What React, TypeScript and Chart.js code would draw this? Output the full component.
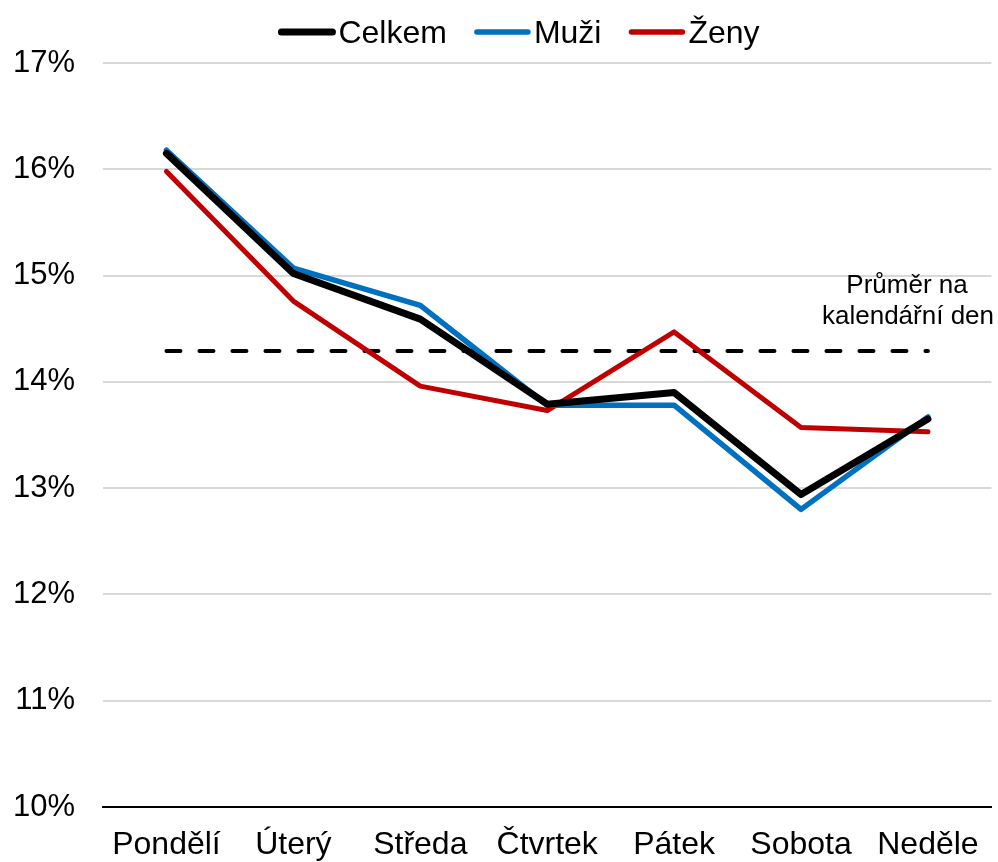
import React, { useEffect, useRef } from "react";
import { Chart, registerables } from "chart.js";

Chart.register(...registerables);

const categories = ["Pondělí", "Úterý", "Středa", "Čtvrtek", "Pátek", "Sobota", "Neděle"];
const celkem = [16.15, 15.02, 14.59, 13.79, 13.9, 12.94, 13.65];
const muzi = [16.18, 15.07, 14.72, 13.78, 13.78, 12.8, 13.67];
const zeny = [15.98, 14.76, 13.96, 13.73, 14.47, 13.57, 13.53];
const prumer = [14.29, 14.29, 14.29, 14.29, 14.29, 14.29, 14.29];
const yMin = 10;
const yMax = 17;
const annotationLines = ["Průměr na", "kalendářní den"];

const FONT = "'Liberation Sans', Arial, sans-serif";

const legendPlugin = {
  id: "customLegend",
  afterDraw(chart: any) {
    const ctx = chart.ctx;
    const items = chart.data.datasets.filter((d: any) => d.showInLegend);
    ctx.save();
    ctx.font = `32px ${FONT}`;
    const lineW = 57;
    const textGap = 3;
    const itemGap = 27;
    let total = 0;
    items.forEach((d: any, i: number) => {
      total += lineW + textGap + ctx.measureText(d.label).width + (i < items.length - 1 ? itemGap : 0);
    });
    let x = 519 - total / 2;
    const yLine = 32;
    items.forEach((d: any) => {
      ctx.beginPath();
      ctx.strokeStyle = d.borderColor;
      ctx.lineWidth = d.legendWidth;
      ctx.lineCap = "round";
      ctx.moveTo(x + 3, yLine);
      ctx.lineTo(x + lineW - 3, yLine);
      ctx.stroke();
      x += lineW + textGap;
      ctx.fillStyle = "#000";
      ctx.textBaseline = "alphabetic";
      ctx.textAlign = "left";
      ctx.fillText(d.label, x, 43);
      x += ctx.measureText(d.label).width + itemGap;
    });
    ctx.restore();
  },
};

const annotationPlugin = {
  id: "avgAnnotation",
  afterDraw(chart: any) {
    const ctx = chart.ctx;
    ctx.save();
    ctx.font = `26px ${FONT}`;
    ctx.fillStyle = "#000";
    ctx.textAlign = "center";
    ctx.textBaseline = "alphabetic";
    ctx.fillText(annotationLines[0], 907, 293);
    ctx.fillText(annotationLines[1], 908, 324);
    ctx.restore();
  },
};

export default function App() {
  const ref = useRef<HTMLCanvasElement>(null);
  useEffect(() => {
    document.body.style.margin = "0";
    const canvas = ref.current!;
    const chart = new Chart(canvas, {
      type: "line",
      data: {
        labels: categories,
        datasets: [
          {
            label: "Celkem",
            data: celkem,
            borderColor: "#000000",
            backgroundColor: "#000000",
            borderWidth: 7,
            pointRadius: 0,
            borderCapStyle: "round",
            borderJoinStyle: "round",
            tension: 0,
            showInLegend: true,
            legendWidth: 7,
          } as any,
          {
            label: "Muži",
            data: muzi,
            borderColor: "#0070C0",
            backgroundColor: "#0070C0",
            borderWidth: 5.5,
            pointRadius: 0,
            borderCapStyle: "round",
            borderJoinStyle: "round",
            tension: 0,
            showInLegend: true,
            legendWidth: 5.5,
          } as any,
          {
            label: "Ženy",
            data: zeny,
            borderColor: "#C00000",
            backgroundColor: "#C00000",
            borderWidth: 5,
            pointRadius: 0,
            borderCapStyle: "round",
            borderJoinStyle: "round",
            tension: 0,
            showInLegend: true,
            legendWidth: 5.5,
          } as any,
          {
            label: "Průměr",
            data: prumer,
            borderColor: "#000000",
            backgroundColor: "#000000",
            borderWidth: 4,
            borderDash: [14, 19],
            borderCapStyle: "round",
            pointRadius: 0,
            tension: 0,
            showInLegend: false,
          } as any,
        ],
      },
      options: {
        responsive: false,
        animation: false,
        layout: { padding: { top: 63, right: 5, left: 0, bottom: 0 } },
        plugins: {
          legend: { display: false },
          tooltip: { enabled: false },
        },
        scales: {
          x: {
            type: "category",
            offset: true,
            grid: { display: false, drawTicks: false },
            border: { display: true, color: "#000", width: 2 },
            ticks: {
              color: "#000",
              font: { family: FONT, size: 32 },
              padding: 19,
              maxRotation: 0,
              autoSkip: false,
            },
            afterFit(scale: any) {
              scale.height = 55;
            },
          },
          y: {
            min: yMin,
            max: yMax,
            grid: { color: "#d9d9d9", lineWidth: 2, drawTicks: false },
            border: { display: false },
            ticks: {
              stepSize: 1,
              color: "#000",
              font: { family: FONT, size: 31 },
              padding: 28,
              callback: (v: any) => `${v}%`,
            },
            afterFit(scale: any) {
              scale.width = 103;
            },
          },
        },
      } as any,
      plugins: [legendPlugin, annotationPlugin],
    });
    return () => chart.destroy();
  }, []);
  return <canvas ref={ref} width={998} height={862} style={{ display: "block" }} />;
}
